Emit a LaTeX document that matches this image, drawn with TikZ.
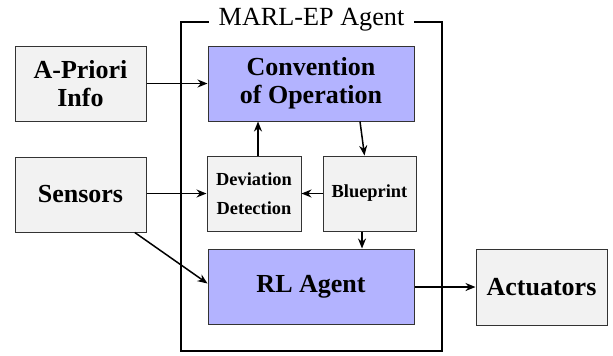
\documentclass[tikz,border=0pt]{standalone}
\usepackage{fontspec}
\setmainfont{Liberation Serif}
\usetikzlibrary{arrows.meta}
\definecolor{lavender}{HTML}{B3B3FF}
\definecolor{paper}{HTML}{F2F2F2}
\tikzstyle{none}=[inner sep=0pt]
\tikzstyle{bigbox}=[draw=black!80,line width=0.5pt,fill=paper,align=center,inner sep=0pt,
	minimum width=65.5pt,minimum height=37.5pt,font=\bfseries\fontsize{13}{14}\selectfont]
\tikzstyle{core}=[bigbox,fill=lavender,minimum width=103pt]
\tikzstyle{smallbox}=[bigbox,minimum width=47pt,font=\bfseries\fontsize{9.2}{14.5}\selectfont]
\tikzstyle{flow}=[line width=0.75pt,-{Stealth[length=5pt,width=4pt]}]

\begin{document}
\begin{tikzpicture}[x=0.5pt,y=-0.5pt]
	\useasboundingbox (0,0) rectangle (613,355);
	% agent frame
	\draw[line width=1pt] (181,22) rectangle (442,351);
	\node [style=none,fill=white,inner xsep=5pt,inner ysep=2pt,font=\fontsize{13.1}{14}\selectfont] (title) at (311.5,20) {MARL-EP Agent};
	% blocks
	\node [style=bigbox] (apriori) at (80.5,83.5) {A-Priori\\Info};
	\node [style=bigbox] (sensors) at (80.5,194.5) {Sensors};
	\node [style=core] (conv) at (311,83.5) {Convention\\of Operation};
	\node [style=smallbox] (dev) at (254,193.5) {Deviation\\Detection};
	\node [style=smallbox,minimum width=46.5pt] (bp) at (369.5,193.5) {Blueprint};
	\node [style=core] (rl) at (311,286.5) {RL Agent};
	\node [style=bigbox,minimum height=38pt] (act) at (541.5,287) {Actuators};
	% signals
	\draw[flow] (apriori) to (conv);
	\draw[flow] (sensors.east |- dev.west) to (dev.west);
	\draw[flow] (sensors.-35.5) to ([yshift=1.5pt]rl.west);
	\draw[flow] ([xshift=2pt]dev.north) to ([xshift=-26.5pt]conv.south);
	\draw[flow] ([xshift=24.5pt]conv.south) to ([xshift=-2.5pt]bp.north);
	\draw[flow] (bp.west) to (dev.east);
	\draw[flow] ([xshift=-3.75pt]bp.south) to ([xshift=25.5pt]rl.north);
	\draw[flow] (rl.east |- act.west) to (act.west);
\end{tikzpicture}
\end{document}
